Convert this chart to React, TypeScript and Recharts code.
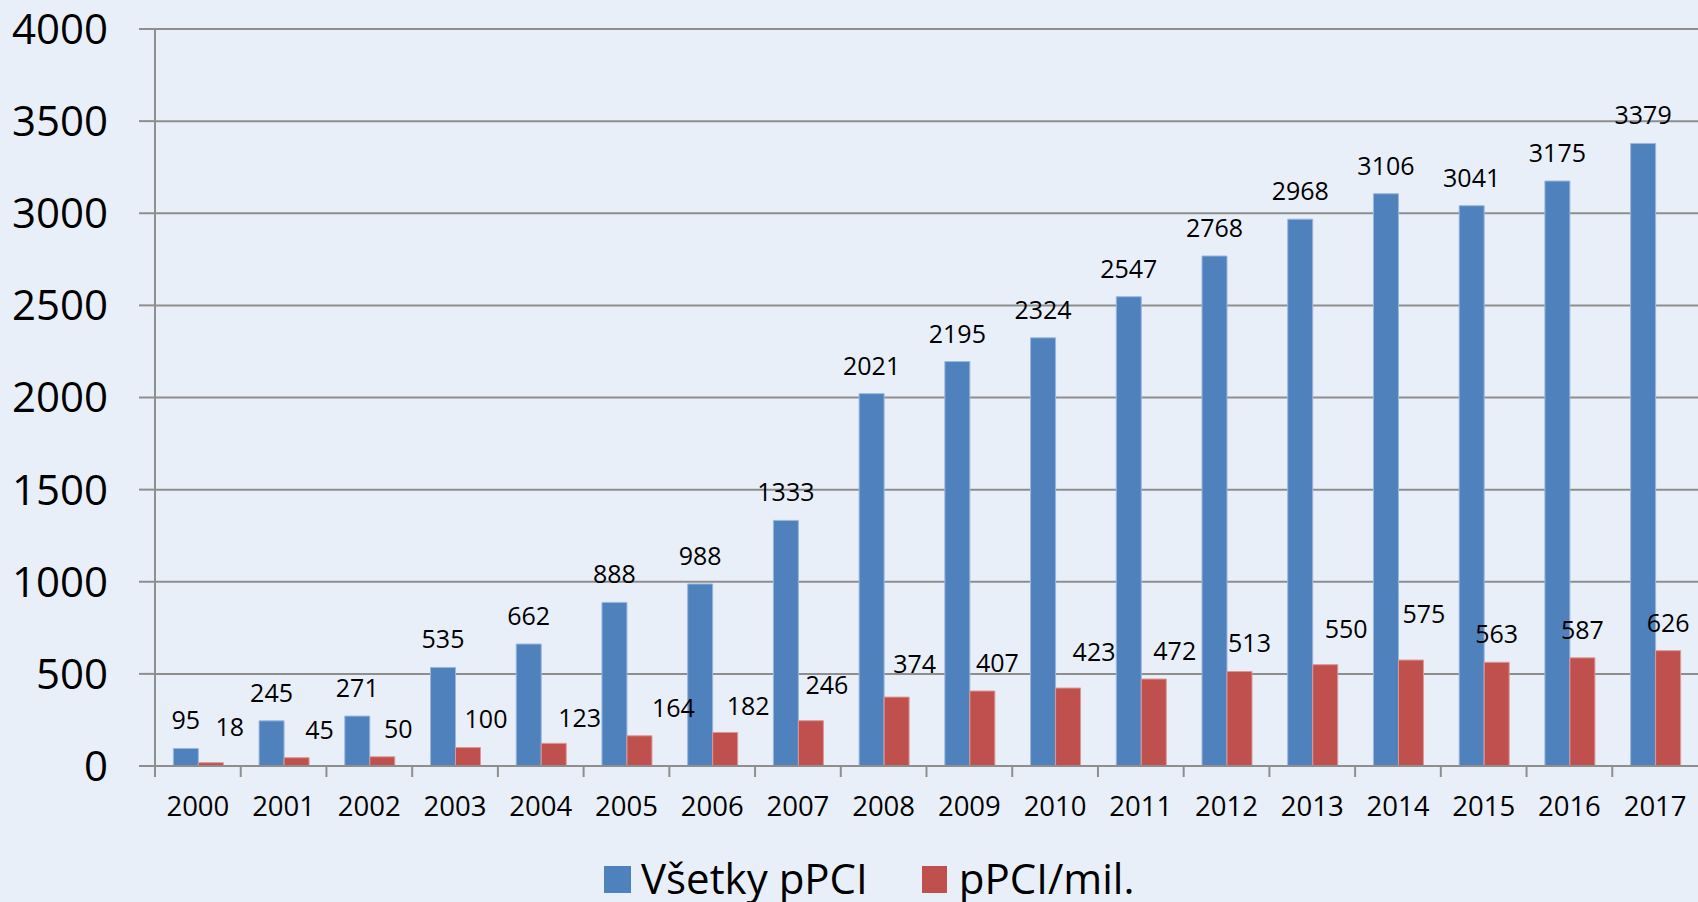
import React from "react";
import { BarChart, Bar, XAxis, YAxis, CartesianGrid, LabelList, Legend } from "recharts";

const years = ["2000","2001","2002","2003","2004","2005","2006","2007","2008","2009","2010","2011","2012","2013","2014","2015","2016","2017"];
const allPPCI = [95,245,271,535,662,888,988,1333,2021,2195,2324,2547,2768,2968,3106,3041,3175,3379];
const ppciPerMil = [18,45,50,100,123,164,182,246,374,407,423,472,513,550,575,563,587,626];
const yTicks = [0,500,1000,1500,2000,2500,3000,3500,4000];
const seriesNames = ["Všetky pPCI", "pPCI/mil."];

// label nudges (as placed by hand in the original), pixels [dx, dy]
const redLabelNudge: [number, number][] = [
  [19,-8],[23,0],[16,0],[18,-1],[26,3],[34,0],[23,2],[16,-8],[18,-5],
  [15,0],[26,-8],[21,0],[10,0],[21,-8],[13,-18],[0,0],[0,0],[0,0],
];

const data = years.map((y, i) => ({ year: y, a: allPPCI[i], b: ppciPerMil[i], idx: i }));

const W = 1698;
const H = 902;
const PLOT_LEFT = 155;
const PLOT_RIGHT = 0;
const BAND = (W - PLOT_LEFT - PLOT_RIGHT) / years.length;
const FONT = "'Open Sans', 'Noto Sans', sans-serif";
const BLUE = "#4F81BD";
const RED = "#C0504D";
const GRID = "#8E8E8E";
const BG = "#E9EFF8";

const XTick = (props: any) => {
  const { x, y, payload } = props;
  return (
    <g>
      <line x1={x - BAND / 2} x2={x - BAND / 2} y1={y} y2={y + 11} stroke={GRID} strokeWidth={2} />
      <text x={x} y={y + 50} textAnchor="middle" fontFamily={FONT} fontSize={27.5} fill="#000">
        {payload.value}
      </text>
    </g>
  );
};

const makeLabel = (nudges: [number, number][] | null) => (props: any) => {
  const { x, y, width, value, index } = props;
  const [dx, dy] = nudges ? nudges[index] : [0, 0];
  return (
    <text
      x={x + width / 2 + dx}
      y={y - 28 + dy}
      dy="0.36em"
      textAnchor="middle"
      fontFamily={FONT}
      fontSize={25}
      fill="#000"
    >
      {value}
    </text>
  );
};

const LegendContent = () => (
  <div
    style={{
      width: W,
      height: 60,
      boxSizing: "border-box",
      paddingTop: 11,
      paddingLeft: 604,
      display: "flex",
      alignItems: "center",
      fontFamily: FONT,
      fontSize: 42,
      color: "#000",
      lineHeight: 1,
    }}
  >
    <span style={{ display: "inline-block", width: 27, height: 27, background: BLUE, marginRight: 10, marginTop: 4 }} />
    <span style={{ marginRight: 54 }}>{seriesNames[0]}</span>
    <span style={{ display: "inline-block", width: 25, height: 27, background: RED, marginRight: 12, marginTop: 4 }} />
    <span>{seriesNames[1]}</span>
  </div>
);

export default function App() {
  return (
    <div style={{ position: "fixed", left: 0, top: 0, width: W, height: H, background: BG, overflow: "hidden" }}>
      <BarChart
        width={W}
        height={H}
        data={data}
        margin={{ top: 29, right: PLOT_RIGHT, bottom: 0, left: 0 }}
        barCategoryGap="21.4%"
        barGap={0}
      >
        <CartesianGrid horizontal vertical={false} stroke={GRID} strokeWidth={2} />
        <XAxis
          dataKey="year"
          height={76}
          interval={0}
          tickLine={false}
          tickSize={0}
          tickMargin={0}
          axisLine={{ stroke: GRID, strokeWidth: 2 }}
          tick={<XTick />}
        />
        <YAxis
          width={PLOT_LEFT}
          domain={[0, 4000]}
          ticks={yTicks}
          interval={0}
          tickSize={16}
          tickMargin={31}
          tickLine={{ stroke: GRID, strokeWidth: 2 }}
          axisLine={{ stroke: GRID, strokeWidth: 2 }}
          tick={{ fontFamily: FONT, fontSize: 42, fill: "#000" }}
        />
        <Legend verticalAlign="bottom" align="left" height={60} wrapperStyle={{ left: 0, width: W }} content={<LegendContent />} />
        <Bar dataKey="a" name={seriesNames[0]} fill={BLUE} stroke="#9CB7DC" strokeWidth={1} isAnimationActive={false}>
          <LabelList dataKey="a" content={makeLabel(null)} />
        </Bar>
        <Bar dataKey="b" name={seriesNames[1]} fill={RED} stroke="#DA9896" strokeWidth={1} isAnimationActive={false}>
          <LabelList dataKey="b" content={makeLabel(redLabelNudge)} />
        </Bar>
      </BarChart>
    </div>
  );
}
